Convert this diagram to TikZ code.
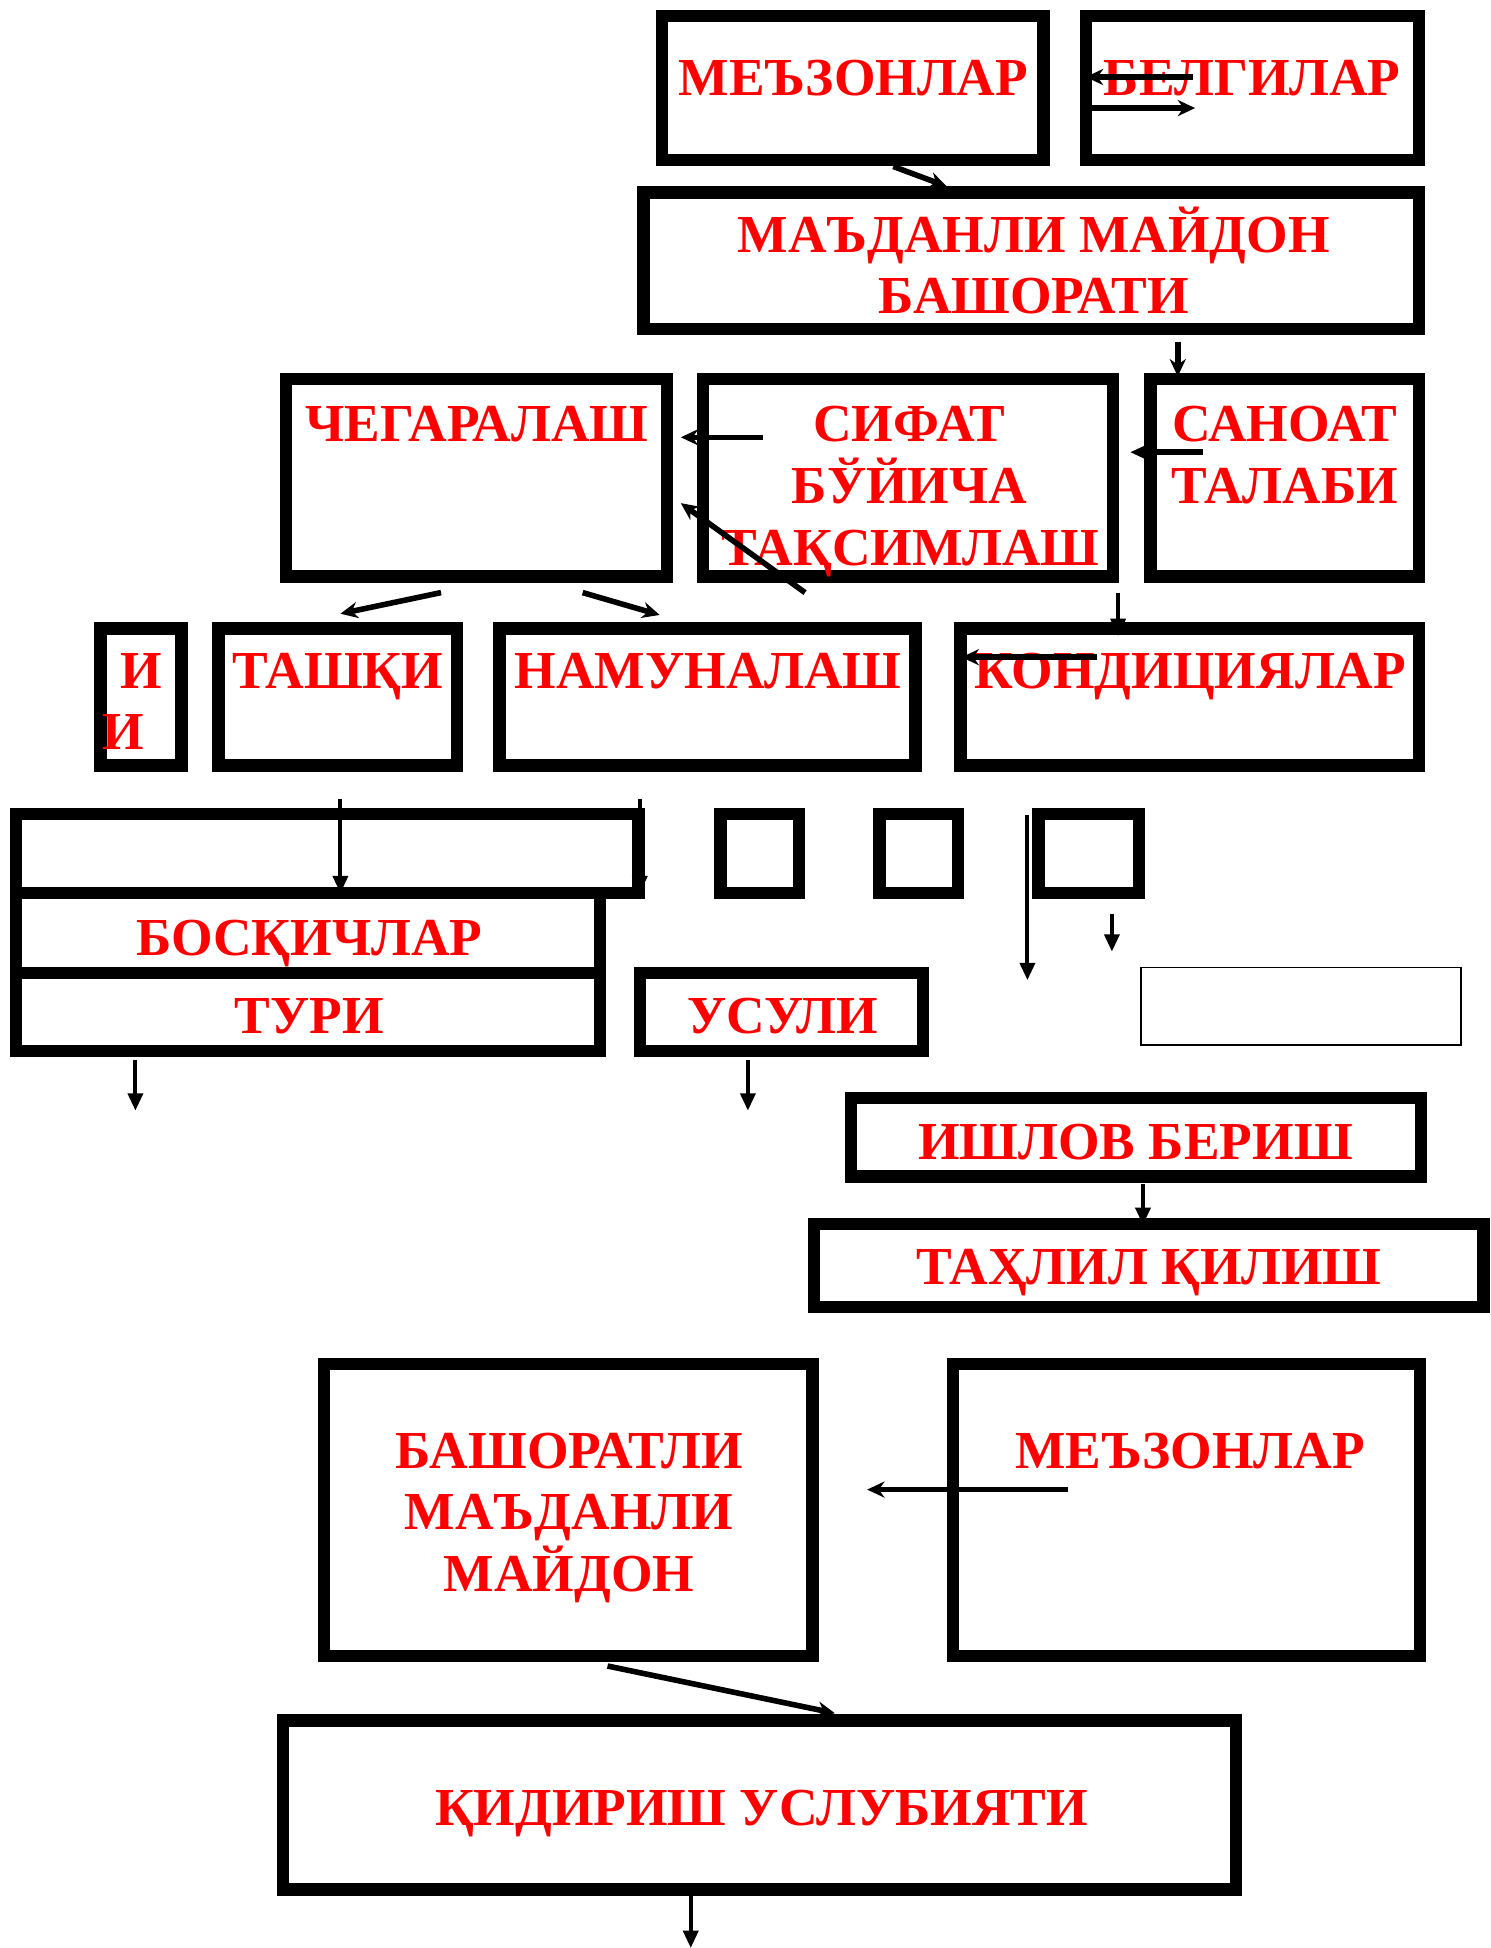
\documentclass[tikz,border=0pt]{standalone}
\usepackage{fontspec}
\setmainfont{Liberation Serif}
\usetikzlibrary{arrows.meta}
\newcommand\lblfont{\fontsize{43}{50}\selectfont\bfseries}
\newcommand\qbox[6][]{%
  \pgfmathsetmacro\qbw{#5-#3-10}\pgfmathsetmacro\qbh{#6-#4-10}%
  \pgfmathsetmacro\qbx{(#3+#5)/2}\pgfmathsetmacro\qby{(#4+#6)/2}%
  \node[bx,#1,minimum width=\qbw pt,minimum height=\qbh pt] (#2) at (\qbx,\qby) {};}
\tikzset{
  bx/.style={draw=black, line width=10pt, inner sep=0pt},
  thinbx/.style={draw=black, line width=1.5pt, inner sep=0pt},
  lbl/.style={text=red, font=\lblfont, inner sep=0pt, anchor=base},
  thk/.style={line width=4.5pt, -{Stealth[length=14pt,width=13pt]}},
  thn/.style={line width=3.2pt, -{Triangle[length=14pt,width=12pt]}},
}
\begin{document}
\begin{tikzpicture}[x=1pt,y=-1pt]
\useasboundingbox[fill=white] (0,0) rectangle (1200,1568);
% boxes
\qbox{mez1}{528}{8}{845}{134}
\qbox{belg}{869}{8}{1147}{134}
\qbox{madan}{513}{150}{1147}{270}
\qbox{cheg}{225}{300}{542}{469}
\qbox{sifat}{561}{300}{901}{469}
\qbox{sanoat}{921}{300}{1147}{469}
\qbox{ii}{76}{501}{151}{621}
\qbox{tashqi}{171}{501}{373}{621}
\qbox{namuna}{397}{501}{742}{621}
\qbox{kond}{768}{501}{1147}{621}
\qbox{long}{8}{650}{519}{724}
\qbox{bosq}{8}{714}{488}{788}
\qbox{turi}{8}{778}{488}{851}
\qbox{smA}{575}{650}{648}{724}
\qbox{smB}{703}{650}{776}{724}
\qbox{smC}{831}{650}{922}{724}
\qbox{usuli}{510}{778}{748}{851}
\node[thinbx, minimum width=257.5pt, minimum height=62.5pt] (thin) at (1047.5,810) {};
\qbox{ishlov}{680}{879}{1149}{952}
\qbox{tahlil}{650}{980}{1199}{1057}
\qbox{bashor}{256}{1093}{659}{1338}
\qbox{mez2}{762}{1093}{1148}{1338}
\qbox{qid}{223}{1380}{1000}{1526}
% labels
\node[lbl] (tmez1) at (687,76.5) {МЕЪЗОНЛАР};
\node[lbl] (tbelg) at (1008,76.5) {БЕЛГИЛАР};
\node[lbl] (tmad1) at (832,203) {МАЪДАНЛИ МАЙДОН};
\node[lbl] (tmad2) at (832,252) {БАШОРАТИ};
\node[lbl] (tcheg) at (384,355) {ЧЕГАРАЛАШ};
\node[lbl] (tsif1) at (732,355) {СИФАТ};
\node[lbl] (tsif2) at (732,405) {БЎЙИЧА};
\node[lbl] (tsif3) at (733,455) {ТАҚСИМЛАШ};
\node[lbl] (tsan1) at (1034,355) {САНОАТ};
\node[lbl] (tsan2) at (1034,405) {ТАЛАБИ};
\node[lbl] (tii1) at (114,554) {И};
\node[lbl] (tii2) at (99,603.5) {И};
\node[lbl] (ttash) at (272,554) {ТАШҚИ};
\node[lbl] (tnam) at (570,554) {НАМУНАЛАШ};
\node[lbl] (tkond) at (958,554) {КОНДИЦИЯЛАР};
\node[lbl] (tbosq) at (249,769) {БОСҚИЧЛАР};
\node[lbl] (tturi) at (249,832) {ТУРИ};
\node[lbl] (tusul) at (630,832) {УСУЛИ};
\node[lbl] (tishl) at (914,933) {ИШЛОВ БЕРИШ};
\node[lbl] (ttahl) at (925,1034) {ТАҲЛИЛ ҚИЛИШ};
\node[lbl] (tbas1) at (458,1182) {БАШОРАТЛИ};
\node[lbl] (tbas2) at (458,1231) {МАЪДАНЛИ};
\node[lbl] (tbas3) at (458,1281) {МАЙДОН};
\node[lbl] (tmez2) at (958,1182) {МЕЪЗОНЛАР};
\node[lbl] (tqid) at (613,1469) {ҚИДИРИШ УСЛУБИЯТИ};
% connector end points
\coordinate (a1s) at (960,62);   \coordinate (a1e) at (874,62);
\coordinate (a2s) at (871,87);   \coordinate (a2e) at (962,87);
\coordinate (a3s) at (719,134);  \coordinate (a3e) at (762,150);
\coordinate (a4s) at (948,275);  \coordinate (a4e) at (948,303);
\coordinate (a5s) at (614,352);  \coordinate (a5e) at (548,352);
\coordinate (a6s) at (968,364);  \coordinate (a6e) at (910,364);
\coordinate (a7s) at (648,477);  \coordinate (a7e) at (548,405);
\coordinate (a8s) at (355,477);  \coordinate (a8e) at (274,494);
\coordinate (a9s) at (469,477);  \coordinate (a9e) at (531,495);
\coordinate (a10s) at (900,477); \coordinate (a10e) at (900,512);
\coordinate (a11s) at (883,529); \coordinate (a11e) at (774,529);
\coordinate (b1s) at (274,643);  \coordinate (b1e) at (274,719);
\coordinate (b2s) at (515,643);  \coordinate (b2e) at (515,719);
\coordinate (b3s) at (827,656);  \coordinate (b3e) at (827,789);
\coordinate (b4s) at (895,736);  \coordinate (b4e) at (895,766);
\coordinate (b5s) at (109,853);  \coordinate (b5e) at (109,894);
\coordinate (b6s) at (602,853);  \coordinate (b6e) at (602,894);
\coordinate (c1s) at (920,953);  \coordinate (c1e) at (920,986);
\coordinate (d1s) at (860,1199); \coordinate (d1e) at (698,1199);
\coordinate (d2s) at (489,1341); \coordinate (d2e) at (672,1379);
\coordinate (d3s) at (556,1526); \coordinate (d3e) at (556,1568);
% connectors
\draw[thk] (a1s) -- (a1e);
\draw[thk] (a2s) -- (a2e);
\draw[thk] (a3s) -- (a3e);
\draw[thk] (a4s) -- (a4e);
\draw[thk] (a5s) -- (a5e);
\draw[thk] (a6s) -- (a6e);
\draw[thk] (a7s) -- (a7e);
\draw[thk] (a8s) -- (a8e);
\draw[thk] (a9s) -- (a9e);
\draw[thn] (a10s) -- (a10e);
\draw[thk] (a11s) -- (a11e);
\draw[thn] (b1s) -- (b1e);
\draw[thn] (b2s) -- (b2e);
\draw[thn] (b3s) -- (b3e);
\draw[thn] (b4s) -- (b4e);
\draw[thn] (b5s) -- (b5e);
\draw[thn] (b6s) -- (b6e);
\draw[thn] (c1s) -- (c1e);
\draw[thk] (d1s) -- (d1e);
\draw[thk] (d2s) -- (d2e);
\draw[thn] (d3s) -- (d3e);
\end{tikzpicture}
\end{document}
